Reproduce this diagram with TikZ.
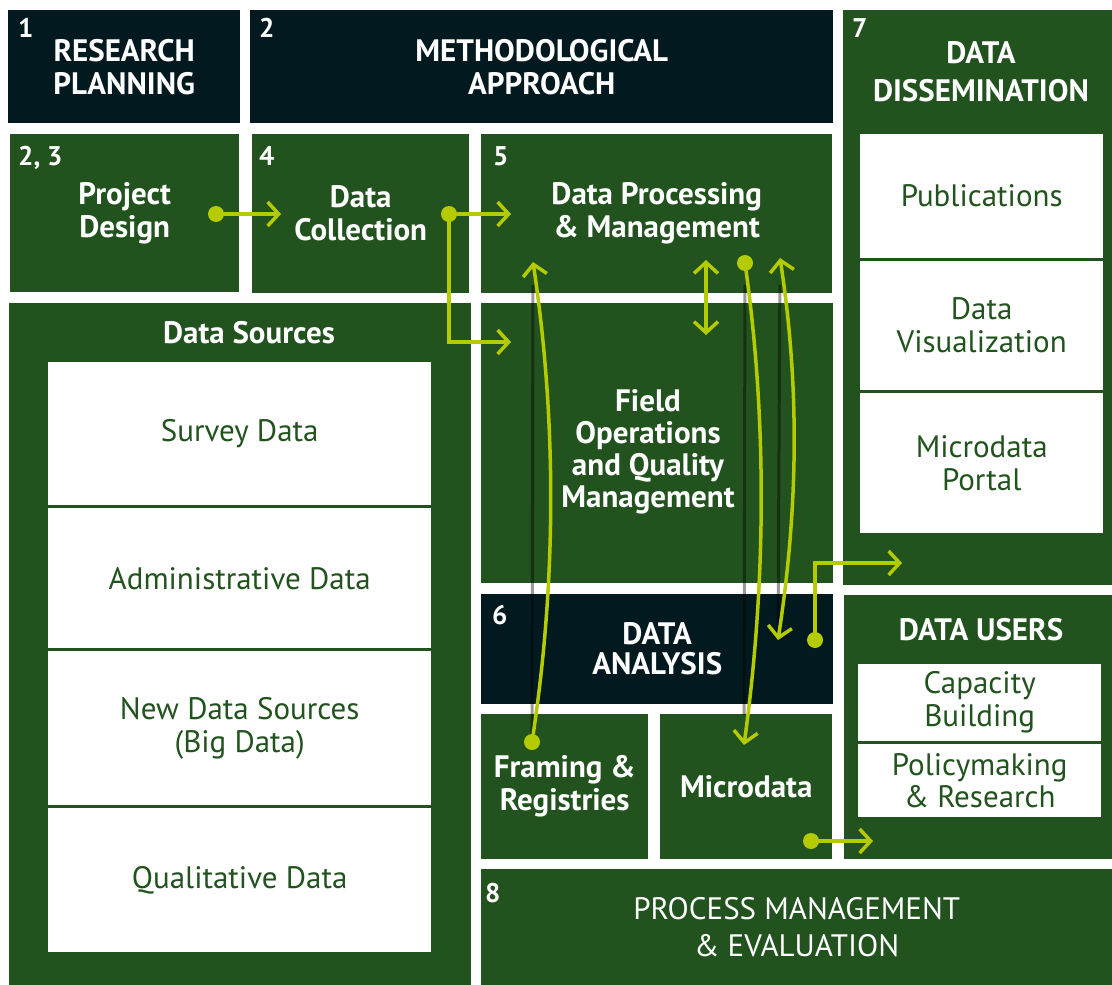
\documentclass[tikz,border=0pt]{standalone}
\usepackage{fontspec}
\setmainfont{PT Sans}
\usetikzlibrary{positioning,arrows.meta}
\definecolor{navy}{HTML}{021A1F}
\definecolor{leaf}{HTML}{22531F}
\definecolor{lime}{HTML}{B4CB00}
\newcommand{\boxfont}{\fontsize{31}{33}\selectfont}
\newcommand{\numfont}{\fontsize{27}{27}\selectfont}

\begin{document}
\begin{tikzpicture}[x=1pt,y=-1pt,
    box/.style={anchor=north west,inner sep=0pt,align=center,text=white},
    darkbox/.style={box,fill=navy,font=\boxfont\bfseries},
    greenbox/.style={box,fill=leaf,font=\boxfont\bfseries},
    card/.style={box,fill=white,text=leaf,font=\boxfont},
    title/.style={inner sep=0pt,align=center,text=white,font=\boxfont\bfseries},
    num/.style={anchor=base west,inner sep=0pt,text=white,font=\numfont\bfseries},
    dot/.style={circle,fill=lime,minimum size=16pt,inner sep=0pt},
    flow/.style={draw=lime,line width=3.5pt,line cap=round,-{Straight Barb[length=11pt,width=24pt]}},
    twoway/.style={flow,{Straight Barb[length=11pt,width=24pt]}-{Straight Barb[length=11pt,width=24pt]}},
    shade/.style={draw=black,opacity=0.4,line width=3pt}]
        \useasboundingbox (0,0) rectangle (1112,985);
        \node[darkbox,minimum width=232pt,minimum height=113pt] (plan) at (8,10) {RESEARCH\\PLANNING};
        \node[darkbox,minimum width=583pt,minimum height=113pt] (method) at (250,10) {METHODOLOGICAL\\APPROACH};
        \node[greenbox,minimum width=269pt,minimum height=575pt] (dissem) at (843,10) {};
        \node[title] (dissemtitle) at (981,72) {DATA\\[5pt]DISSEMINATION};
        \node[card,minimum width=243pt,minimum height=124pt] (pub) at (860,134) {Publications};
        \node[card,minimum width=243pt,minimum height=129pt] (viz) at (860,261) {Data\\Visualization};
        \node[card,minimum width=243pt,minimum height=140pt] (portal) at (860,393) {Microdata\\Portal};

        \node[greenbox,minimum width=229pt,minimum height=158pt] (design) at (10,134) {Project\\Design};
        \node[greenbox,minimum width=217pt,minimum height=159pt] (collect) at (252,134) {Data\\Collection};
        \node[greenbox,minimum width=351pt,minimum height=159pt] (process) at (481,134) {Data Processing\\\& Management};

        \node[greenbox,minimum width=462pt,minimum height=682pt] (sources) at (9,303) {};
        \node[title] (sourcestitle) at (249,333) {Data Sources};
        \node[card,minimum width=383pt,minimum height=143pt] (survey) at (48,362) {Survey Data};
        \node[card,minimum width=383pt,minimum height=140pt] (admin) at (48,508) {Administrative Data};
        \node[card,minimum width=383pt,minimum height=154pt] (bigdata) at (48,651) {New Data Sources\\(Big Data)};
        \node[card,minimum width=383pt,minimum height=144pt] (quali) at (48,808) {Qualitative Data};

        \node[greenbox,minimum width=352pt,minimum height=280pt] (field) at (481,303) {};
        \node[title,font=\fontsize{31}{32}\selectfont\bfseries] (fieldtitle) at (648,452) {Field\\Operations\\and Quality\\Management};
        \node[darkbox,minimum width=352pt,minimum height=110pt] (analysis) at (481,594) {DATA\\[-3pt]ANALYSIS};
        \node[greenbox,minimum width=167pt,minimum height=145pt] (framing) at (481,714) {Framing \&\\Registries};
        \node[greenbox,minimum width=172pt,minimum height=145pt] (micro) at (660,714) {Microdata};

        \node[greenbox,minimum width=268pt,minimum height=264pt] (users) at (844,595) {};
        \node[title] (userstitle) at (981,630) {DATA USERS};
        \node[card,minimum width=243pt,minimum height=77pt] (capacity) at (858,664) {Capacity\\Building};
        \node[card,minimum width=243pt,minimum height=73pt,font=\fontsize{31}{32}\selectfont] (policy) at (858,744) {Policymaking\\\& Research};

        \node[greenbox,minimum width=631pt,minimum height=116pt,font=\boxfont] (evaluation) at (481,869) {PROCESS MANAGEMENT\\[4pt]\& EVALUATION};

        \node[num] (n1) at (18,37) {1};
        \node[num] (n2) at (259,37) {2};
        \node[num] (n7) at (852,37) {7};
        \node[num] (n23) at (18,165) {2, 3};
        \node[num] (n4) at (259,165) {4};
        \node[num] (n5) at (493,165) {5};
        \node[num] (n6) at (492,624) {6};
        \node[num] (n8) at (485,902) {8};

        \node[dot] (d1) at (216,214) {};
        \node[dot] (d2) at (449,214) {};
        \node[dot] (d3) at (532,742) {};
        \node[dot] (d4) at (745,263) {};
        \node[dot] (d5) at (815,640) {};
        \node[dot] (d6) at (811,841) {};
        \coordinate (t1) at (281,214);
        \coordinate (t2) at (511,214);
        \coordinate (t3) at (511,342);
        \coordinate (t4) at (533,262);
        \coordinate (t5) at (744,745);
        \coordinate (t6) at (780,258);
        \coordinate (t7) at (778,640);
        \coordinate (t8) at (902,563);
        \coordinate (t9) at (873,841);
        \coordinate (s1) at (706,260);
        \coordinate (s2) at (706,335);

        \draw[shade,shorten <=23pt,shorten >=8pt] (t4) -- (d3.center);
        \draw[shade,shorten <=22pt,shorten >=30pt] (d4.center) -- (t5);
        \draw[shade,shorten <=27pt,shorten >=15pt] (t6) -- (t7);

        \draw[flow] (d1) -- (t1);
        \draw[flow] (d2) -- (t2);
        \draw[flow] (d2) |- (t3);
        \draw[flow] (d3) .. controls +(24,-160) and +(24,160) .. (t4);
        \draw[twoway] (s1) -- (s2);
        \draw[flow] (d4) .. controls +(22,160) and +(22,-160) .. (t5);
        \draw[twoway] (t6) .. controls +(20,130) and +(20,-130) .. (t7);
        \draw[flow] (d5) |- (t8);
        \draw[flow] (d6) -- (t9);
    \end{tikzpicture}
\end{document}
